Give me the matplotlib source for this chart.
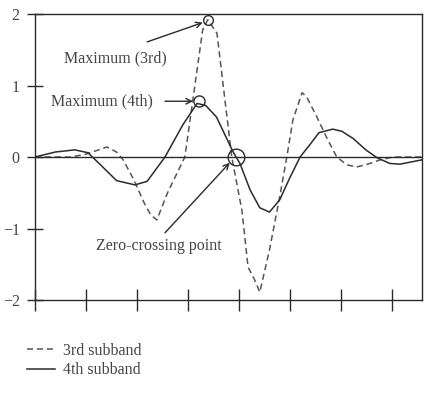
import matplotlib
matplotlib.use("Agg")
import matplotlib.pyplot as plt
import numpy as np

plt.rcParams['font.family'] = ['Liberation Serif', 'DejaVu Serif']

# pixel-read sample positions (x in tick units)
x4 = [0.0, 0.4, 0.78, 1.04, 1.3, 1.6, 1.96, 2.2, 2.55, 2.9, 3.18, 3.35, 3.56, 3.88, 4.02, 4.22, 4.41, 4.6, 4.8, 4.98, 5.2, 5.39, 5.57, 5.84, 6.02, 6.24, 6.49, 6.71, 6.96, 7.16, 7.59]
y4 = [0.0, 0.07, 0.1, 0.06, -0.12, -0.33, -0.39, -0.34, 0.0, 0.45, 0.75, 0.72, 0.56, 0.08, -0.09, -0.46, -0.71, -0.77, -0.6, -0.32, 0.0, 0.17, 0.34, 0.39, 0.36, 0.26, 0.1, -0.01, -0.09, -0.1, -0.04]

x3 = [0.0, 0.7, 1.0, 1.41, 1.6, 1.73, 1.94, 2.14, 2.27, 2.39, 2.6, 2.94, 3.29, 3.39, 3.57, 3.86, 4.06, 4.18, 4.31, 4.41, 4.6, 4.8, 4.94, 5.06, 5.24, 5.33, 5.53, 5.73, 5.92, 6.12, 6.31, 6.57, 6.77, 7.02, 7.59]
y3 = [0.0, 0.0, 0.04, 0.14, 0.07, -0.04, -0.32, -0.64, -0.81, -0.88, -0.5, 0.0, 1.78, 1.92, 1.73, 0.0, -0.75, -1.54, -1.72, -1.89, -1.3, -0.56, 0.0, 0.52, 0.9, 0.84, 0.56, 0.26, 0.0, -0.11, -0.14, -0.09, -0.04, 0.0, 0.0]

yticks = [-2, -1, 0, 1, 2]
ytick_labels = ["\u22122", "\u22121", "0", "1", "2"]
xticks = [0, 1, 2, 3, 4, 5, 6, 7]

max3 = (3.39, 1.92)
max4 = (3.22, 0.78)
zero_pt = (3.94, 0.0)

fig = plt.figure(figsize=(4.27, 3.96), dpi=100)
ax = fig.add_axes([0.082, 0.2424, 0.906, 0.7222])

line_color = '#2b2b2b'
text_color = '#444444'

ax.plot(x3, y3, linestyle=(0, (4, 2.5)), color='#555555', lw=1.1, label='3rd subband')
ax.plot(x4, y4, linestyle='-', color=line_color, lw=1.1, label='4th subband')
ax.axhline(0, color=line_color, lw=1.0)

ax.plot(*max3, marker='o', ms=7, mfc='none', mec=line_color, mew=1.0)
ax.plot(*max4, marker='o', ms=8, mfc='none', mec=line_color, mew=1.0)
ax.plot(*zero_pt, marker='o', ms=12, mfc='none', mec=line_color, mew=1.0)

ax.set_xlim(0, 7.59)
ax.set_ylim(-2, 2)
ax.set_xticks(xticks)
ax.set_xticklabels([])
ax.set_yticks(yticks)
ax.set_yticklabels(ytick_labels)
ax.tick_params(direction='inout', length=12, width=1.0, color=line_color,
               labelsize=11.5, labelcolor=text_color, pad=5)
ax.tick_params(axis='x', length=16)
for s in ax.spines.values():
    s.set_color(line_color)
    s.set_linewidth(1.0)

arrowprops = dict(arrowstyle='->', color=line_color, lw=1.0, shrinkA=0, shrinkB=0)
ax.annotate('', xy=(3.29, 1.88), xytext=(2.2, 1.61), arrowprops=arrowprops)
ax.text(1.57, 1.38, 'Maximum (3rd)', ha='center', va='center', fontsize=11.5, color=text_color)
ax.annotate('', xy=(3.1, 0.78), xytext=(2.55, 0.78), arrowprops=arrowprops)
ax.text(1.32, 0.78, 'Maximum (4th)', ha='center', va='center', fontsize=11.5, color=text_color)
ax.annotate('', xy=(3.82, -0.08), xytext=(2.55, -1.06), arrowprops=arrowprops)
ax.text(2.42, -1.25, 'Zero-crossing point', ha='center', va='center', fontsize=11.5, color=text_color)

leg = ax.legend(loc='upper left', bbox_to_anchor=(-0.022, -0.15), frameon=False,
                fontsize=11.5, handlelength=1.8, handletextpad=0.5, labelspacing=0.2,
                borderaxespad=0, borderpad=0)
for t in leg.get_texts():
    t.set_color(text_color)

fig.savefig('out.png', dpi=100)
